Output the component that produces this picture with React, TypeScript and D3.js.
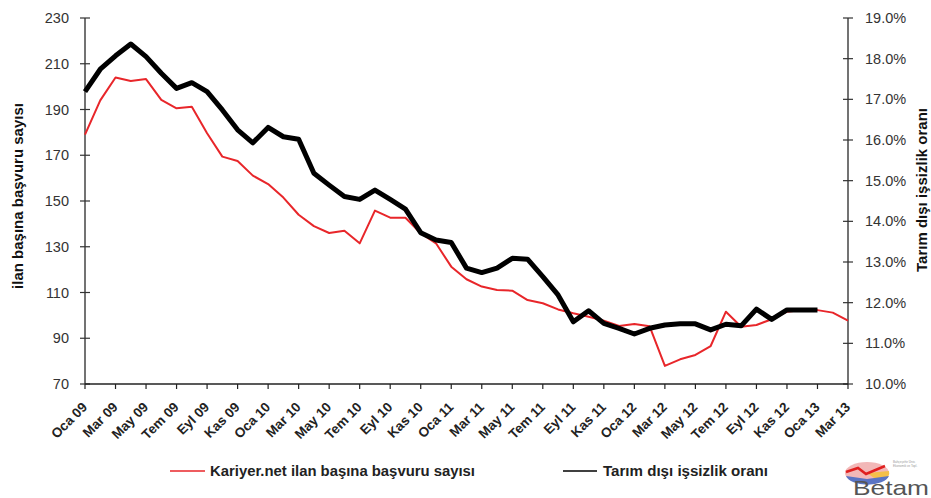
import React from 'react'
import * as d3 from 'd3'

const monthNames = ['Oca', 'Şub', 'Mar', 'Nis', 'May', 'Haz', 'Tem', 'Ağu', 'Eyl', 'Eki', 'Kas', 'Ara']
const months: string[] = []
for (let yr = 9; yr <= 13; yr++) {
    monthNames.forEach((m, k) => {
        if (yr === 13 && k > 2) return
        months.push(`${m} ${String(yr).padStart(2, '0')}`)
    })
}

// Kariyer.net ilan başına başvuru sayısı (left axis)
const applications = [
    179, 194, 204, 202.5, 203.3, 194.2, 190.5, 191.2, 179.6, 169.4, 167.5, 161.1,
    157.4, 151.5, 144, 139, 136, 137, 131.5, 145.8, 142.7, 142.7, 135.9, 131.5,
    121.3, 115.8, 112.6, 111.1, 110.8, 106.7, 105.3, 102.6, 100.9, 99.4, 97.7, 95.4,
    96.2, 95.2, 77.9, 80.8, 82.7, 86.6, 101.6, 95.0, 95.8, 98.3, 101.6, 102.3,
    102.3, 101.2, 97.7,
]

// Tarım dışı işsizlik oranı, % (right axis)
const unemployment = [
    17.19, 17.74, 18.07, 18.36, 18.05, 17.64, 17.27, 17.41, 17.19, 16.74, 16.25, 15.93,
    16.31, 16.08, 16.02, 15.18, 14.89, 14.61, 14.54, 14.77, 14.54, 14.30, 13.72, 13.54,
    13.48, 12.85, 12.74, 12.85, 13.09, 13.07, 12.64, 12.19, 11.53, 11.80, 11.49, 11.37,
    11.23, 11.37, 11.45, 11.48, 11.48, 11.33, 11.47, 11.43, 11.84, 11.59, 11.82, 11.82,
    11.82,
]

const leftTicks = [70, 90, 110, 130, 150, 170, 190, 210, 230]
const rightTicks = [10, 11, 12, 13, 14, 15, 16, 17, 18, 19]

const W = 931
const H = 498
const left = 85
const right = 848
const top = 18
const bottom = 384

const font = 'Arial, "Liberation Sans", sans-serif'

export default function App() {
    const x = d3.scalePoint<string>().domain(months).range([left, right])
    const yL = d3.scaleLinear().domain([70, 230]).range([bottom, top])
    const yR = d3.scaleLinear().domain([10, 19]).range([bottom, top])

    const redLine = d3.line<number>()
        .x((_, i) => x(months[i]) as number)
        .y(d => yL(d))
    const blackLine = d3.line<number>()
        .x((_, i) => x(months[i]) as number)
        .y(d => yR(d))

    const xTicks = months.filter((_, i) => i % 2 === 0)

    return (
        <svg width={W} height={H} style={{ position: 'absolute', left: 0, top: 0, background: '#fff' }}
            fontFamily={font}>
            {/* left axis */}
            <line x1={left} x2={left} y1={top} y2={bottom} stroke="#444" strokeWidth={1.5} />
            {leftTicks.map(t => (
                <g key={t}>
                    <line x1={left - 5} x2={left + 5} y1={yL(t)} y2={yL(t)} stroke="#333" strokeWidth={1.2} />
                    <text x={69} y={yL(t)} dy="0.35em" textAnchor="end" fontSize={14.5} fill="#333">{t}</text>
                </g>
            ))}
            <text transform={`translate(23, 196) rotate(-90)`} textAnchor="middle" fontSize={15}
                fontWeight="bold" fill="#111">ilan başına  başvuru sayısı</text>

            {/* right axis */}
            <line x1={right} x2={right} y1={top} y2={bottom} stroke="#444" strokeWidth={1.5} />
            {rightTicks.map(t => (
                <g key={t}>
                    <line x1={right - 5} x2={right + 5} y1={yR(t)} y2={yR(t)} stroke="#333" strokeWidth={1.2} />
                    <text x={865} y={yR(t)} dy="0.35em" textAnchor="start" fontSize={14.5} fill="#333">
                        {t.toFixed(1)}%
                    </text>
                </g>
            ))}
            <text transform={`translate(927, 190) rotate(-90)`} textAnchor="middle" fontSize={15}
                fontWeight="bold" fill="#111">Tarım dışı işsizlik oranı</text>

            {/* x axis */}
            <line x1={left} x2={right} y1={bottom} y2={bottom} stroke="#222" strokeWidth={1.5} />
            {xTicks.map(m => {
                const px = x(m) as number
                return (
                    <g key={m}>
                        <line x1={px} x2={px} y1={bottom} y2={bottom + 5} stroke="#222" strokeWidth={1.2} />
                        <text transform={`translate(${px + 3}, ${bottom + 24}) rotate(-45)`} textAnchor="end"
                            fontSize={13.5} fontWeight="bold" fill="#222">{m}</text>
                    </g>
                )
            })}

            {/* series */}
            <path d={redLine(applications) ?? ''} fill="none" stroke="#e8262a" strokeWidth={2} strokeLinejoin="round" />
            <path d={blackLine(unemployment) ?? ''} fill="none" stroke="#000" strokeWidth={5} strokeLinejoin="round" />

            {/* legend */}
            <line x1={170} x2={205} y1={471} y2={471} stroke="#e8262a" strokeWidth={1.5} />
            <text x={210} y={471} dy="0.35em" fontSize={14} fontWeight="bold" fill="#222"
                textLength={265} lengthAdjust="spacingAndGlyphs">
                Kariyer.net ilan başına başvuru sayısı
            </text>
            <line x1={563} x2={597} y1={471} y2={471} stroke="#000" strokeWidth={1.5} />
            <text x={603} y={471} dy="0.35em" fontSize={14} fontWeight="bold" fill="#222"
                textLength={165} lengthAdjust="spacingAndGlyphs">
                Tarım dışı işsizlik oranı
            </text>

            {/* Betam logo */}
            <g>
                <ellipse cx={867} cy={473} rx={22} ry={11} fill="#f2b8b8" />
                <path d="M867,473 L889,471 A22,11 0 0 1 880,482 Z" fill="#f4c04a" />
                <path d="M846,476 A22,11 0 0 0 889,476 L867,479 Z" fill="#5a74c4" />
                <path d="M846,472 L858,468 L866,474 L885,466" fill="none" stroke="#e02020" strokeWidth={2.5} />
                <text x={893} y={463} fontSize={3} fill="#999">Bahçeşehir Üniv.</text>
                <text x={893} y={467} fontSize={3} fill="#999">Ekonomik ve Topl.</text>
                <text x={853} y={495} fontSize={21} fill="#555" textLength={76} lengthAdjust="spacingAndGlyphs">Betam</text>
            </g>
        </svg>
    )
}
